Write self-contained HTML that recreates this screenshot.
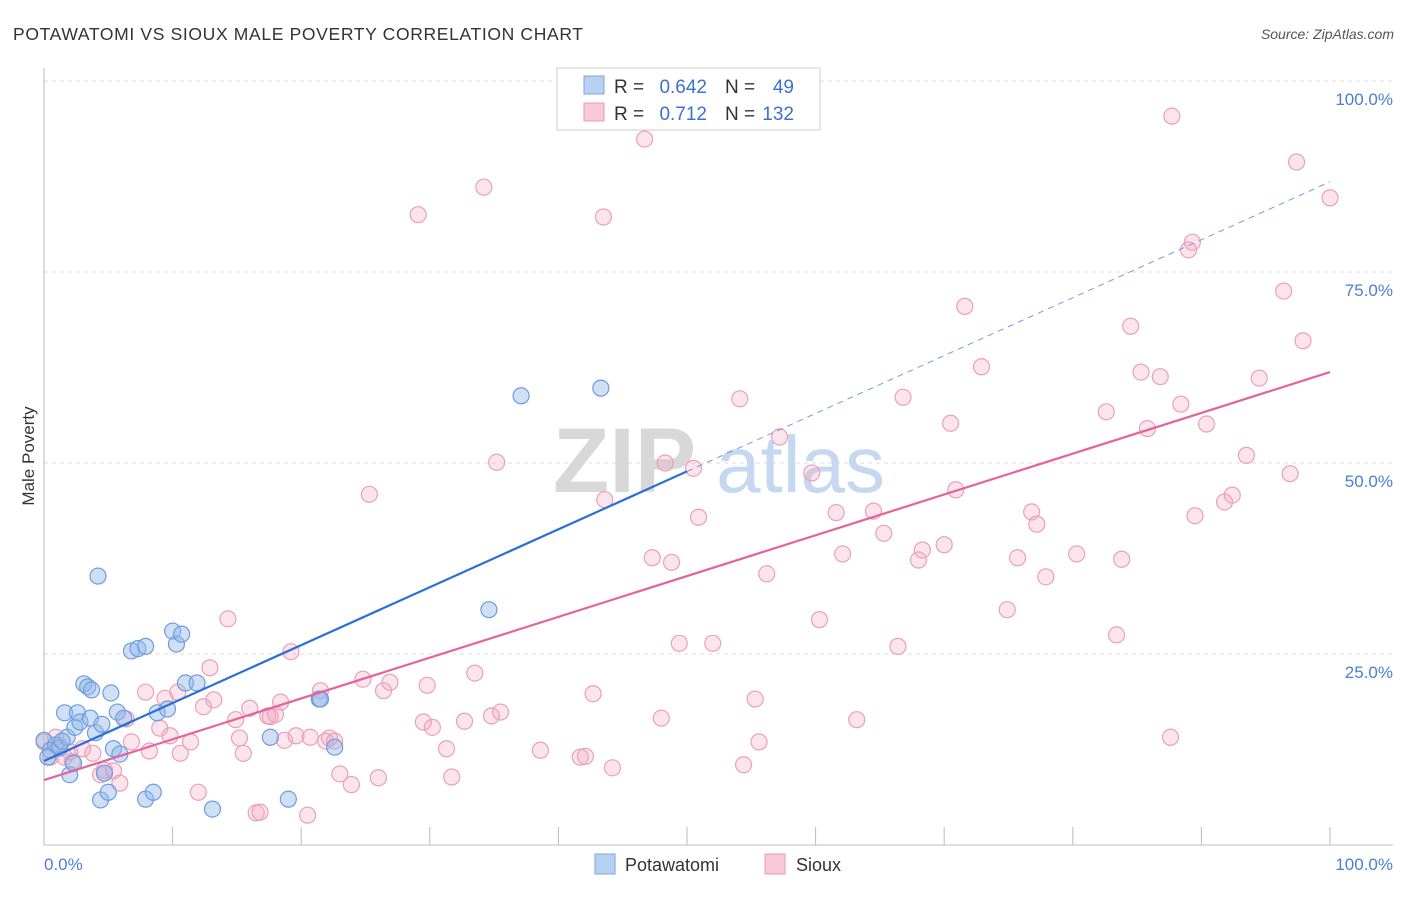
<!DOCTYPE html>
<html><head><meta charset="utf-8"><style>
body{margin:0;background:#fff;font-family:"Liberation Sans",sans-serif}
svg text{font-family:"Liberation Sans",sans-serif}
</style></head><body>
<svg id="chart" width="1406" height="892" xmlns="http://www.w3.org/2000/svg">
<text x="13" y="40" font-size="17.5" fill="#333" textLength="570" lengthAdjust="spacing">POTAWATOMI VS SIOUX MALE POVERTY CORRELATION CHART</text>
<text x="1394" y="39" font-size="14" fill="#555" font-style="italic" text-anchor="end">Source: ZipAtlas.com</text>
<g id="grid"></g>
<g><text x="553" y="492" font-size="92" fill="#d8d8d8" font-weight="bold" font-family="Liberation Serif">ZIP</text><text x="716" y="492" font-size="80" fill="#c5d8f0">atlas</text></g>
<g id="marks"></g>
<text transform="translate(34,456) rotate(-90)" font-size="17" fill="#333" text-anchor="middle">Male Poverty</text>
<text x="44" y="870" font-size="17" fill="#4a7fd4">0.0%</text>
<text x="1393" y="870" font-size="17" fill="#4a7fd4" text-anchor="end">100.0%</text>
<g>
<rect x="557" y="68" width="263" height="62" fill="#fff" stroke="#ccc"/>
<rect x="584" y="76" width="20" height="18" fill="#b8d1f3" stroke="#7aa5e0"/>
<rect x="584" y="103" width="20" height="18" fill="#f9c9d8" stroke="#e89ab4"/>
<text x="614" y="93" font-size="19" fill="#333">R =</text>
<text x="707" y="93" font-size="19" fill="#3a72d0" text-anchor="end">0.642</text>
<text x="725" y="93" font-size="19" fill="#333">N =</text>
<text x="794" y="93" font-size="19" fill="#3a72d0" text-anchor="end">49</text>
<text x="614" y="120" font-size="19" fill="#333">R =</text>
<text x="707" y="120" font-size="19" fill="#3a72d0" text-anchor="end">0.712</text>
<text x="725" y="120" font-size="19" fill="#333">N =</text>
<text x="794" y="120" font-size="19" fill="#3a72d0" text-anchor="end">132</text>
</g>
<g>
<rect x="595" y="854" width="20" height="20" fill="#b8d1f3" stroke="#7aa5e0"/>
<text x="625" y="871" font-size="18" fill="#333">Potawatomi</text>
<rect x="765" y="854" width="20" height="20" fill="#f9c9d8" stroke="#e89ab4"/>
<text x="796" y="871" font-size="18" fill="#333">Sioux</text>
</g>
</svg>
<script>
const yTicks=[25,50,75,100];
const yTickLabels=["25.0%","50.0%","75.0%","100.0%"];
const xTicks=[0,10,20,30,40,50,60,70,80,90,100];
const bluePx=[[44,740],[50,750],[55,745],[60,748],[64,713],[67,737],[70,775],[73,763],[75,727],[78,713],[80,722],[84,684],[88,687],[92,690],[90,718],[95,733],[98,576],[102,724],[100,800],[104,773],[108,792],[111,693],[113,749],[117,712],[120,754],[124,718],[131,651],[138,649],[145,646],[145,799],[153,792],[157,713],[167,709],[172,631],[177,644],[182,634],[186,683],[197,683],[212,809],[270,737],[288,799],[319,699],[321,699],[334,747],[489,610],[521,396],[601,388],[48,757],[62,741]];
const pinkPx=[[44,742],[50,757],[55,737],[60,746],[65,757],[70,752],[72,762],[82,749],[93,753],[100,775],[104,770],[113,771],[120,783],[126,719],[131,742],[145,692],[150,751],[160,728],[165,698],[170,736],[178,692],[180,753],[190,742],[198,792],[203,707],[210,668],[214,700],[228,619],[236,720],[240,738],[243,753],[250,708],[256,813],[260,812],[268,716],[270,717],[275,714],[281,702],[285,740],[291,652],[296,736],[307,815],[310,737],[320,691],[325,741],[330,738],[334,741],[340,774],[351,785],[363,679],[370,494],[378,778],[384,691],[390,682],[418,215],[423,722],[427,685],[433,727],[447,749],[452,777],[465,721],[475,673],[484,187],[492,716],[497,462],[501,712],[540,750],[580,757],[586,756],[593,694],[603,217],[605,500],[613,768],[644,139],[652,558],[661,718],[665,463],[672,562],[679,643],[693,468],[699,517],[713,643],[740,399],[743,765],[755,699],[759,742],[767,574],[780,437],[812,473],[819,620],[836,513],[843,554],[857,720],[873,511],[884,533],[898,646],[903,397],[918,560],[922,550],[944,545],[951,423],[956,490],[965,306],[981,367],[1007,610],[1018,558],[1032,512],[1037,524],[1046,577],[1077,554],[1106,412],[1117,635],[1122,559],[1131,326],[1141,372],[1148,429],[1160,377],[1170,737],[1172,116],[1181,404],[1189,250],[1192,242],[1195,516],[1207,424],[1225,502],[1232,495],[1247,455],[1259,378],[1284,291],[1290,474],[1296,162],[1303,341],[1330,198]];
const blueX=bluePx.map(p=>+((p[0]-44)/12.86).toFixed(1));
const blueY=bluePx.map(p=>+((845-p[1])/7.64).toFixed(1));
const pinkX=pinkPx.map(p=>+((p[0]-44)/12.86).toFixed(1));
const pinkY=pinkPx.map(p=>+((845-p[1])/7.64).toFixed(1));
const blueTrend=[11.0,48.9,86.8];
const pinkTrend=[8.5,61.9];
const NS="http://www.w3.org/2000/svg";
const sx=v=>44+v*12.86, sy=v=>845-v*7.64;
function mk(tag,attrs,parent){const e=document.createElementNS(NS,tag);for(const k in attrs)e.setAttribute(k,attrs[k]);parent.appendChild(e);return e;}
const grid=document.getElementById('grid'), marks=document.getElementById('marks');
yTicks.forEach((t,i)=>{
 const l=mk('line',{x1:44,x2:1393,y1:sy(t),y2:sy(t),stroke:'#ddd','stroke-dasharray':'4,4'},grid);
 
 
 const tx=mk('text',{x:1393,y:sy(t)+24,'font-size':17,fill:'#4a7fd4','text-anchor':'end'},grid);
 tx.textContent=yTickLabels[i];
 
 
});
const ax=mk('line',{x1:44,x2:1393,y1:845,y2:845,stroke:'#bbb'},grid);


const ay=mk('line',{x1:44,x2:44,y1:68,y2:845,stroke:'#bbb'},grid);


xTicks.forEach(t=>{const l=mk('line',{x1:sx(t),x2:sx(t),y1:827,y2:845,stroke:'#bbb'},grid);
 
 });
pinkX.forEach((x,i)=>{const c=mk('circle',{cx:sx(x),cy:sy(pinkY[i]),r:8,fill:'rgba(244,165,192,0.3)',stroke:'#eaa0ba','stroke-width':1.2},marks);
 
 });
blueX.forEach((x,i)=>{const c=mk('circle',{cx:sx(x),cy:sy(blueY[i]),r:8,fill:'rgba(147,184,234,0.45)',stroke:'#6f9ddc','stroke-width':1.2},marks);
 
 });
const bl=mk('line',{x1:sx(0),y1:sy(blueTrend[0]),x2:sx(50),y2:sy(blueTrend[1]),stroke:'#2a6fd8','stroke-width':2.2},marks);


const bd=mk('line',{x1:sx(50),y1:sy(blueTrend[1]),x2:sx(100),y2:sy(blueTrend[2]),stroke:'#6f9ddc','stroke-width':1,'stroke-dasharray':'6,5'},marks);


const pl=mk('line',{x1:sx(0),y1:sy(pinkTrend[0]),x2:sx(100),y2:sy(pinkTrend[1]),stroke:'#e4649a','stroke-width':2.2},marks);


</script>
</body></html>
